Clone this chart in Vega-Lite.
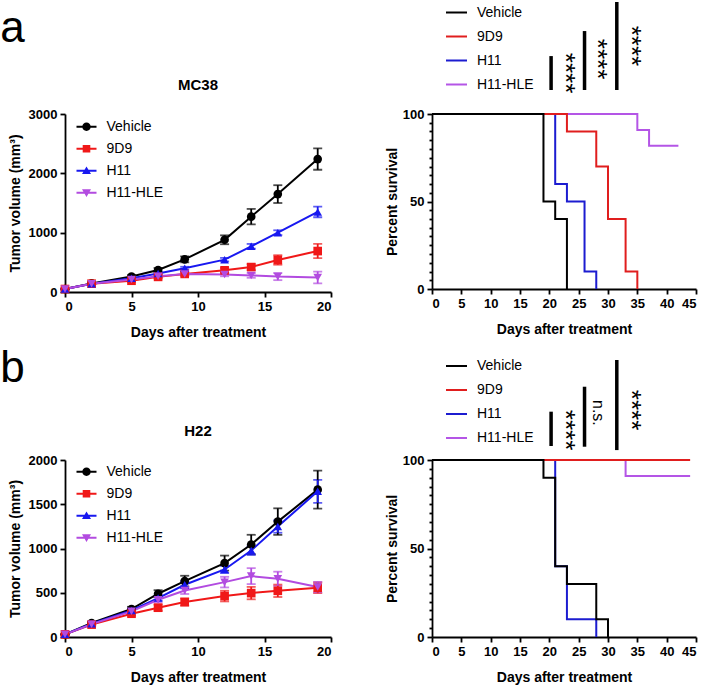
{
  "$schema": "https://vega.github.io/schema/vega-lite/v6.json",
  "padding": {"left": 0, "top": 0, "right": 4, "bottom": 4},
  "background": "white",
  "datasets": {
    "groups": [{"group": "Vehicle"}, {"group": "9D9"}, {"group": "H11"}, {"group": "H11-HLE"}],
    "mc38": [
      {"group": "Vehicle", "day": 0, "vol": 50, "err": 10},
      {"group": "Vehicle", "day": 2, "vol": 145, "err": 15},
      {"group": "Vehicle", "day": 5, "vol": 260, "err": 25},
      {"group": "Vehicle", "day": 7, "vol": 370, "err": 35},
      {"group": "Vehicle", "day": 9, "vol": 550, "err": 50},
      {"group": "Vehicle", "day": 12, "vol": 880, "err": 75},
      {"group": "Vehicle", "day": 14, "vol": 1270, "err": 130},
      {"group": "Vehicle", "day": 16, "vol": 1650, "err": 150},
      {"group": "Vehicle", "day": 19, "vol": 2240, "err": 180},
      {"group": "9D9", "day": 0, "vol": 50, "err": 5},
      {"group": "9D9", "day": 2, "vol": 140, "err": 10},
      {"group": "9D9", "day": 5, "vol": 190, "err": 20},
      {"group": "9D9", "day": 7, "vol": 255, "err": 25},
      {"group": "9D9", "day": 9, "vol": 305, "err": 30},
      {"group": "9D9", "day": 12, "vol": 365, "err": 40},
      {"group": "9D9", "day": 14, "vol": 420, "err": 50},
      {"group": "9D9", "day": 16, "vol": 540, "err": 80},
      {"group": "9D9", "day": 19, "vol": 690, "err": 120},
      {"group": "H11", "day": 0, "vol": 50, "err": 5},
      {"group": "H11", "day": 2, "vol": 140, "err": 10},
      {"group": "H11", "day": 5, "vol": 230, "err": 15},
      {"group": "H11", "day": 7, "vol": 310, "err": 20},
      {"group": "H11", "day": 9, "vol": 400, "err": 25},
      {"group": "H11", "day": 12, "vol": 545, "err": 30},
      {"group": "H11", "day": 14, "vol": 770, "err": 40},
      {"group": "H11", "day": 16, "vol": 1000, "err": 40},
      {"group": "H11", "day": 19, "vol": 1350, "err": 90},
      {"group": "H11-HLE", "day": 0, "vol": 50, "err": 5},
      {"group": "H11-HLE", "day": 2, "vol": 140, "err": 10},
      {"group": "H11-HLE", "day": 5, "vol": 210, "err": 15},
      {"group": "H11-HLE", "day": 7, "vol": 265, "err": 20},
      {"group": "H11-HLE", "day": 9, "vol": 305, "err": 25},
      {"group": "H11-HLE", "day": 12, "vol": 295, "err": 30},
      {"group": "H11-HLE", "day": 14, "vol": 280, "err": 40},
      {"group": "H11-HLE", "day": 16, "vol": 260, "err": 60},
      {"group": "H11-HLE", "day": 19, "vol": 245, "err": 100}
    ],
    "h22": [
      {"group": "Vehicle", "day": 0, "vol": 30, "err": 5},
      {"group": "Vehicle", "day": 2, "vol": 158, "err": 15},
      {"group": "Vehicle", "day": 5, "vol": 316, "err": 25},
      {"group": "Vehicle", "day": 7, "vol": 489, "err": 40},
      {"group": "Vehicle", "day": 9, "vol": 632, "err": 60},
      {"group": "Vehicle", "day": 12, "vol": 835, "err": 85},
      {"group": "Vehicle", "day": 14, "vol": 1045, "err": 110},
      {"group": "Vehicle", "day": 16, "vol": 1304, "err": 150},
      {"group": "Vehicle", "day": 19, "vol": 1665, "err": 215},
      {"group": "9D9", "day": 0, "vol": 30, "err": 5},
      {"group": "9D9", "day": 2, "vol": 140, "err": 15},
      {"group": "9D9", "day": 5, "vol": 263, "err": 20},
      {"group": "9D9", "day": 7, "vol": 331, "err": 35},
      {"group": "9D9", "day": 9, "vol": 395, "err": 40},
      {"group": "9D9", "day": 12, "vol": 462, "err": 60},
      {"group": "9D9", "day": 14, "vol": 496, "err": 70},
      {"group": "9D9", "day": 16, "vol": 522, "err": 70},
      {"group": "9D9", "day": 19, "vol": 556, "err": 60},
      {"group": "H11", "day": 0, "vol": 30, "err": 5},
      {"group": "H11", "day": 2, "vol": 150, "err": 10},
      {"group": "H11", "day": 5, "vol": 300, "err": 20},
      {"group": "H11", "day": 7, "vol": 440, "err": 30},
      {"group": "H11", "day": 9, "vol": 590, "err": 40},
      {"group": "H11", "day": 12, "vol": 763, "err": 40},
      {"group": "H11", "day": 14, "vol": 977, "err": 50},
      {"group": "H11", "day": 16, "vol": 1248, "err": 70},
      {"group": "H11", "day": 19, "vol": 1646, "err": 130},
      {"group": "H11-HLE", "day": 0, "vol": 30, "err": 5},
      {"group": "H11-HLE", "day": 2, "vol": 145, "err": 10},
      {"group": "H11-HLE", "day": 5, "vol": 290, "err": 20},
      {"group": "H11-HLE", "day": 7, "vol": 421, "err": 30},
      {"group": "H11-HLE", "day": 9, "vol": 526, "err": 40},
      {"group": "H11-HLE", "day": 12, "vol": 620, "err": 60},
      {"group": "H11-HLE", "day": 14, "vol": 688, "err": 90},
      {"group": "H11-HLE", "day": 16, "vol": 658, "err": 80},
      {"group": "H11-HLE", "day": 19, "vol": 564, "err": 60}
    ],
    "surv_mc38": [
      {"group": "H11-HLE", "day": 0, "pct": 100},
      {"group": "H11-HLE", "day": 35, "pct": 90.9},
      {"group": "H11-HLE", "day": 37, "pct": 81.8},
      {"group": "H11-HLE", "day": 42, "pct": 81.8},
      {"group": "H11", "day": 0, "pct": 100},
      {"group": "H11", "day": 21, "pct": 60},
      {"group": "H11", "day": 23, "pct": 50},
      {"group": "H11", "day": 26, "pct": 10},
      {"group": "H11", "day": 28, "pct": 0},
      {"group": "9D9", "day": 0, "pct": 100},
      {"group": "9D9", "day": 23, "pct": 90},
      {"group": "9D9", "day": 28, "pct": 70},
      {"group": "9D9", "day": 30, "pct": 40},
      {"group": "9D9", "day": 33, "pct": 10},
      {"group": "9D9", "day": 35, "pct": 0},
      {"group": "Vehicle", "day": 0, "pct": 100},
      {"group": "Vehicle", "day": 19, "pct": 50},
      {"group": "Vehicle", "day": 21, "pct": 40},
      {"group": "Vehicle", "day": 23, "pct": 0}
    ],
    "surv_h22": [
      {"group": "H11-HLE", "day": 0, "pct": 100},
      {"group": "H11-HLE", "day": 33, "pct": 90.9},
      {"group": "H11-HLE", "day": 44, "pct": 90.9},
      {"group": "H11", "day": 0, "pct": 100},
      {"group": "H11", "day": 21, "pct": 40},
      {"group": "H11", "day": 23, "pct": 10},
      {"group": "H11", "day": 28, "pct": 0},
      {"group": "9D9", "day": 0, "pct": 100},
      {"group": "9D9", "day": 44, "pct": 100},
      {"group": "Vehicle", "day": 0, "pct": 100},
      {"group": "Vehicle", "day": 19, "pct": 90},
      {"group": "Vehicle", "day": 21, "pct": 40},
      {"group": "Vehicle", "day": 23, "pct": 30},
      {"group": "Vehicle", "day": 28, "pct": 10},
      {"group": "Vehicle", "day": 30, "pct": 0}
    ],
    "sig_mc38": [
      {"day": 20.3, "pct": 113.7, "pct2": 133.1},
      {"day": 26, "pct": 113.7, "pct2": 147.4},
      {"day": 31.5, "pct": 113.7, "pct2": 164}
    ],
    "stars_mc38": [
      {"day": 22.6, "pct": 123.4, "label": "****"},
      {"day": 28.2, "pct": 131.4, "label": "****"},
      {"day": 33.9, "pct": 138.9, "label": "****"}
    ],
    "sig_h22": [
      {"day": 20.3, "pct": 107.9, "pct2": 127.3},
      {"day": 26, "pct": 107.5, "pct2": 141.4},
      {"day": 31.5, "pct": 105.6, "pct2": 156.5}
    ],
    "stars_h22": [
      {"day": 22.6, "pct": 116.9, "label": "****"},
      {"day": 28.3, "pct": 126.6, "label": "n.s."},
      {"day": 33.9, "pct": 128.2, "label": "****"}
    ],
    "panel_a": [{"day": -73.6, "pct": 141.1, "label": "a"}],
    "panel_b": [{"day": -73.6, "pct": 144, "label": "b"}],
    "minor": [
      {"pct": 5}, {"pct": 10}, {"pct": 15}, {"pct": 20}, {"pct": 25}, {"pct": 30}, {"pct": 35}, {"pct": 40}, {"pct": 45},
      {"pct": 55}, {"pct": 60}, {"pct": 65}, {"pct": 70}, {"pct": 75}, {"pct": 80}, {"pct": 85}, {"pct": 90}, {"pct": 95}
    ]
  },
  "concat": [
    {
      "width": 266, "height": 178,
      "title": {"text": "MC38", "offset": 15},
      "resolve": {"scale": {"color": "independent", "shape": "independent"}},
      "layer": [
        {
          "data": {"name": "mc38"},
          "mark": {"type": "errorbar", "ticks": {"size": 9, "thickness": 1.8}, "rule": {"strokeWidth": 1.8}},
          "encoding": {
            "x": {"field": "day", "type": "quantitative", "scale": {"domain": [0, 20], "nice": false}, "axis": {"values": [0, 5, 10, 15, 20], "title": "Days after treatment"}},
            "y": {"field": "vol", "type": "quantitative", "scale": {"domain": [0, 3000], "nice": false}, "axis": {"values": [0, 1000, 2000, 3000], "format": "d", "title": "Tumor volume (mm³)"}},
            "yError": {"field": "err"},
            "color": {"field": "group", "type": "nominal", "legend": null, "scale": {"domain": ["Vehicle", "9D9", "H11", "H11-HLE"], "range": ["#000000", "#f01818", "#1818f0", "#b24be0"]}}
          }
        },
        {
          "data": {"name": "mc38"},
          "mark": {"type": "line", "strokeWidth": 2},
          "encoding": {
            "x": {"field": "day", "type": "quantitative", "scale": {"domain": [0, 20], "nice": false}},
            "y": {"field": "vol", "type": "quantitative", "scale": {"domain": [0, 3000], "nice": false}},
            "color": {"field": "group", "type": "nominal", "legend": null, "scale": {"domain": ["Vehicle", "9D9", "H11", "H11-HLE"], "range": ["#000000", "#f01818", "#1818f0", "#b24be0"]}}
          }
        },
        {
          "data": {"name": "mc38"},
          "mark": {"type": "point", "filled": true, "size": 75, "opacity": 1},
          "encoding": {
            "x": {"field": "day", "type": "quantitative", "scale": {"domain": [0, 20], "nice": false}},
            "y": {"field": "vol", "type": "quantitative", "scale": {"domain": [0, 3000], "nice": false}},
            "shape": {"field": "group", "type": "nominal", "scale": {"domain": ["Vehicle", "9D9", "H11", "H11-HLE"], "range": ["circle", "square", "triangle-up", "triangle-down"]}, "legend": null},
            "color": {"field": "group", "type": "nominal", "legend": null, "scale": {"domain": ["Vehicle", "9D9", "H11", "H11-HLE"], "range": ["#000000", "#f01818", "#1818f0", "#b24be0"]}}
          }
        },
        {
          "data": {"name": "groups"},
          "mark": {"type": "point", "filled": true, "opacity": 0},
          "encoding": {
            "x": {"datum": 10, "type": "quantitative", "scale": {"domain": [0, 20], "nice": false}},
            "y": {"datum": 1000, "type": "quantitative", "scale": {"domain": [0, 3000], "nice": false}},
            "shape": {"field": "group", "type": "nominal",
              "scale": {"domain": ["Vehicle", "9D9", "H11", "H11-HLE"], "range": [
                "M-1,-0.1H1V0.1H-1ZM0.42,0A0.42,0.42,0,1,1,-0.42,0A0.42,0.42,0,1,1,0.42,0Z",
                "M-1,-0.1H1V0.1H-1ZM-0.38,-0.38H0.38V0.38H-0.38Z",
                "M-1,-0.1H1V0.1H-1ZM0,-0.42L0.45,0.34L-0.45,0.34Z",
                "M-1,-0.1H1V0.1H-1ZM0,0.42L-0.45,-0.34L0.45,-0.34Z"]},
              "legend": {"orient": "none", "legendX": 11.5, "legendY": 2.7, "title": null, "padding": 0, "symbolSize": 400, "symbolOpacity": 1, "symbolStrokeWidth": 0, "rowPadding": 5, "labelOffset": 10, "labelFontSize": 14}},
            "color": {"field": "group", "type": "nominal",
              "scale": {"domain": ["Vehicle", "9D9", "H11", "H11-HLE"], "range": ["#000000", "#f01818", "#1818f0", "#b24be0"]},
              "legend": {"orient": "none", "legendX": 11.5, "legendY": 2.7, "title": null, "padding": 0, "symbolSize": 400, "symbolOpacity": 1, "symbolStrokeWidth": 0, "rowPadding": 5, "labelOffset": 10, "labelFontSize": 14}}
          }
        }
      ]
    },
    {
      "width": 264, "height": 175,
      "resolve": {"axis": {"y": "independent"}},
      "layer": [
        {
          "data": {"name": "surv_mc38"},
          "mark": {"type": "line", "interpolate": "step-after", "strokeWidth": 2},
          "encoding": {
            "x": {"field": "day", "type": "quantitative", "scale": {"domain": [0, 45], "nice": false}, "axis": {"values": [0, 5, 10, 15, 20, 25, 30, 35, 40, 45], "title": "Days after treatment"}},
            "y": {"field": "pct", "type": "quantitative", "scale": {"domain": [0, 100], "nice": false}, "axis": {"orient": "left", "values": [0, 50, 100], "title": "Percent survival", "titlePadding": 3}},
            "color": {
              "field": "group", "type": "nominal",
              "scale": {"domain": ["Vehicle", "9D9", "H11", "H11-HLE"], "range": ["#000000", "#e01e1e", "#1c1cd0", "#b455e6"]},
              "legend": {"orient": "none", "legendX": 13, "legendY": -113, "title": null, "padding": 0, "symbolType": "stroke", "symbolSize": 441, "symbolStrokeWidth": 2, "rowPadding": 5, "labelOffset": 9, "labelFontSize": 14}
            }
          }
        },
        {
          "data": {"name": "minor"},
          "mark": {"type": "point", "opacity": 0},
          "encoding": {
            "x": {"datum": 0, "type": "quantitative", "scale": {"domain": [0, 45], "nice": false}, "axis": {"values": [0, 5, 10, 15, 20, 25, 30, 35, 40, 45], "title": "Days after treatment"}},
            "y": {"field": "pct", "type": "quantitative", "scale": {"domain": [0, 100], "nice": false}, "axis": {"orient": "left", "values": [5, 10, 15, 20, 25, 30, 35, 40, 45, 55, 60, 65, 70, 75, 80, 85, 90, 95], "labels": false, "domain": false, "title": null, "tickSize": 3}}
          }
        },
        {
          "data": {"name": "sig_mc38"},
          "mark": {"type": "rule", "strokeWidth": 3.5, "color": "black"},
          "encoding": {
            "x": {"field": "day", "type": "quantitative", "scale": {"domain": [0, 45], "nice": false}, "axis": {"values": [0, 5, 10, 15, 20, 25, 30, 35, 40, 45], "title": "Days after treatment"}},
            "y": {"field": "pct", "type": "quantitative", "scale": {"domain": [0, 100], "nice": false}, "axis": null},
            "y2": {"field": "pct2"}
          }
        },
        {
          "data": {"name": "stars_mc38"},
          "mark": {"type": "text", "angle": 90, "fontSize": 26, "align": "center", "baseline": "middle", "color": "black"},
          "encoding": {
            "x": {"field": "day", "type": "quantitative", "scale": {"domain": [0, 45], "nice": false}, "axis": {"values": [0, 5, 10, 15, 20, 25, 30, 35, 40, 45], "title": "Days after treatment"}},
            "y": {"field": "pct", "type": "quantitative", "scale": {"domain": [0, 100], "nice": false}, "axis": null},
            "text": {"field": "label"}
          }
        },
        {
          "data": {"name": "panel_a"},
          "mark": {"type": "text", "fontSize": 44, "align": "left", "baseline": "alphabetic", "color": "black"},
          "encoding": {
            "x": {"field": "day", "type": "quantitative", "scale": {"domain": [0, 45], "nice": false}, "axis": {"values": [0, 5, 10, 15, 20, 25, 30, 35, 40, 45], "title": "Days after treatment"}},
            "y": {"field": "pct", "type": "quantitative", "scale": {"domain": [0, 100], "nice": false}, "axis": null},
            "text": {"field": "label"}
          }
        }
      ]
    },
    {
      "width": 266, "height": 177,
      "title": {"text": "H22", "offset": 15},
      "resolve": {"scale": {"color": "independent", "shape": "independent"}},
      "layer": [
        {
          "data": {"name": "h22"},
          "mark": {"type": "errorbar", "ticks": {"size": 9, "thickness": 1.8}, "rule": {"strokeWidth": 1.8}},
          "encoding": {
            "x": {"field": "day", "type": "quantitative", "scale": {"domain": [0, 20], "nice": false}, "axis": {"values": [0, 5, 10, 15, 20], "title": "Days after treatment"}},
            "y": {"field": "vol", "type": "quantitative", "scale": {"domain": [0, 2000], "nice": false}, "axis": {"values": [0, 500, 1000, 1500, 2000], "format": "d", "title": "Tumor volume (mm³)"}},
            "yError": {"field": "err"},
            "color": {"field": "group", "type": "nominal", "legend": null, "scale": {"domain": ["Vehicle", "9D9", "H11", "H11-HLE"], "range": ["#000000", "#f01818", "#1818f0", "#b24be0"]}}
          }
        },
        {
          "data": {"name": "h22"},
          "mark": {"type": "line", "strokeWidth": 2},
          "encoding": {
            "x": {"field": "day", "type": "quantitative", "scale": {"domain": [0, 20], "nice": false}},
            "y": {"field": "vol", "type": "quantitative", "scale": {"domain": [0, 2000], "nice": false}},
            "color": {"field": "group", "type": "nominal", "legend": null, "scale": {"domain": ["Vehicle", "9D9", "H11", "H11-HLE"], "range": ["#000000", "#f01818", "#1818f0", "#b24be0"]}}
          }
        },
        {
          "data": {"name": "h22"},
          "mark": {"type": "point", "filled": true, "size": 75, "opacity": 1},
          "encoding": {
            "x": {"field": "day", "type": "quantitative", "scale": {"domain": [0, 20], "nice": false}},
            "y": {"field": "vol", "type": "quantitative", "scale": {"domain": [0, 2000], "nice": false}},
            "shape": {"field": "group", "type": "nominal", "scale": {"domain": ["Vehicle", "9D9", "H11", "H11-HLE"], "range": ["circle", "square", "triangle-up", "triangle-down"]}, "legend": null},
            "color": {"field": "group", "type": "nominal", "legend": null, "scale": {"domain": ["Vehicle", "9D9", "H11", "H11-HLE"], "range": ["#000000", "#f01818", "#1818f0", "#b24be0"]}}
          }
        },
        {
          "data": {"name": "groups"},
          "mark": {"type": "point", "filled": true, "opacity": 0},
          "encoding": {
            "x": {"datum": 10, "type": "quantitative", "scale": {"domain": [0, 20], "nice": false}},
            "y": {"datum": 1000, "type": "quantitative", "scale": {"domain": [0, 2000], "nice": false}},
            "shape": {"field": "group", "type": "nominal",
              "scale": {"domain": ["Vehicle", "9D9", "H11", "H11-HLE"], "range": [
                "M-1,-0.1H1V0.1H-1ZM0.42,0A0.42,0.42,0,1,1,-0.42,0A0.42,0.42,0,1,1,0.42,0Z",
                "M-1,-0.1H1V0.1H-1ZM-0.38,-0.38H0.38V0.38H-0.38Z",
                "M-1,-0.1H1V0.1H-1ZM0,-0.42L0.45,0.34L-0.45,0.34Z",
                "M-1,-0.1H1V0.1H-1ZM0,0.42L-0.45,-0.34L0.45,-0.34Z"]},
              "legend": {"orient": "none", "legendX": 11.5, "legendY": 1.7, "title": null, "padding": 0, "symbolSize": 400, "symbolOpacity": 1, "symbolStrokeWidth": 0, "rowPadding": 5, "labelOffset": 10, "labelFontSize": 14}},
            "color": {"field": "group", "type": "nominal",
              "scale": {"domain": ["Vehicle", "9D9", "H11", "H11-HLE"], "range": ["#000000", "#f01818", "#1818f0", "#b24be0"]},
              "legend": {"orient": "none", "legendX": 11.5, "legendY": 1.7, "title": null, "padding": 0, "symbolSize": 400, "symbolOpacity": 1, "symbolStrokeWidth": 0, "rowPadding": 5, "labelOffset": 10, "labelFontSize": 14}}
          }
        }
      ]
    },
    {
      "width": 264, "height": 177,
      "resolve": {"axis": {"y": "independent"}},
      "layer": [
        {
          "data": {"name": "surv_h22"},
          "mark": {"type": "line", "interpolate": "step-after", "strokeWidth": 2},
          "encoding": {
            "x": {"field": "day", "type": "quantitative", "scale": {"domain": [0, 45], "nice": false}, "axis": {"values": [0, 5, 10, 15, 20, 25, 30, 35, 40, 45], "title": "Days after treatment"}},
            "y": {"field": "pct", "type": "quantitative", "scale": {"domain": [0, 100], "nice": false}, "axis": {"orient": "left", "values": [0, 50, 100], "title": "Percent survival", "titlePadding": 3}},
            "color": {
              "field": "group", "type": "nominal",
              "scale": {"domain": ["Vehicle", "9D9", "H11", "H11-HLE"], "range": ["#000000", "#e01e1e", "#1c1cd0", "#b455e6"]},
              "legend": {"orient": "none", "legendX": 13, "legendY": -105.5, "title": null, "padding": 0, "symbolType": "stroke", "symbolSize": 441, "symbolStrokeWidth": 2, "rowPadding": 5, "labelOffset": 9, "labelFontSize": 14}
            }
          }
        },
        {
          "data": {"name": "minor"},
          "mark": {"type": "point", "opacity": 0},
          "encoding": {
            "x": {"datum": 0, "type": "quantitative", "scale": {"domain": [0, 45], "nice": false}, "axis": {"values": [0, 5, 10, 15, 20, 25, 30, 35, 40, 45], "title": "Days after treatment"}},
            "y": {"field": "pct", "type": "quantitative", "scale": {"domain": [0, 100], "nice": false}, "axis": {"orient": "left", "values": [5, 10, 15, 20, 25, 30, 35, 40, 45, 55, 60, 65, 70, 75, 80, 85, 90, 95], "labels": false, "domain": false, "title": null, "tickSize": 3}}
          }
        },
        {
          "data": {"name": "sig_h22"},
          "mark": {"type": "rule", "strokeWidth": 3.5, "color": "black"},
          "encoding": {
            "x": {"field": "day", "type": "quantitative", "scale": {"domain": [0, 45], "nice": false}, "axis": {"values": [0, 5, 10, 15, 20, 25, 30, 35, 40, 45], "title": "Days after treatment"}},
            "y": {"field": "pct", "type": "quantitative", "scale": {"domain": [0, 100], "nice": false}, "axis": null},
            "y2": {"field": "pct2"}
          }
        },
        {
          "data": {"name": "stars_h22"},
          "mark": {"type": "text", "angle": 90, "align": "center", "baseline": "middle", "color": "black"},
          "encoding": {
            "x": {"field": "day", "type": "quantitative", "scale": {"domain": [0, 45], "nice": false}, "axis": {"values": [0, 5, 10, 15, 20, 25, 30, 35, 40, 45], "title": "Days after treatment"}},
            "y": {"field": "pct", "type": "quantitative", "scale": {"domain": [0, 100], "nice": false}, "axis": null},
            "text": {"field": "label"},
            "size": {"condition": {"test": "datum.label === 'n.s.'", "value": 16}, "value": 26}
          }
        },
        {
          "data": {"name": "panel_b"},
          "mark": {"type": "text", "fontSize": 44, "align": "left", "baseline": "alphabetic", "color": "black"},
          "encoding": {
            "x": {"field": "day", "type": "quantitative", "scale": {"domain": [0, 45], "nice": false}, "axis": {"values": [0, 5, 10, 15, 20, 25, 30, 35, 40, 45], "title": "Days after treatment"}},
            "y": {"field": "pct", "type": "quantitative", "scale": {"domain": [0, 100], "nice": false}, "axis": null},
            "text": {"field": "label"}
          }
        }
      ]
    }
  ],
  "columns": 2,
  "spacing": {"row": 168, "column": 101},
  "bounds": "flush",
  "resolve": {
    "scale": {"color": "independent", "shape": "independent", "x": "independent", "y": "independent"},
    "legend": {"color": "independent", "shape": "independent"}
  },
  "config": {
    "font": "Liberation Sans",
    "view": {"stroke": null},
    "axis": {
      "domainColor": "black", "domainWidth": 1.8, "tickColor": "black", "tickWidth": 1.8, "tickSize": 5,
      "labelFontWeight": "bold", "labelFontSize": 13, "labelColor": "black", "labelPadding": 3,
      "titleFontSize": 14, "titleFontWeight": "bold", "titleColor": "black", "titlePadding": 6, "grid": false
    },
    "axisX": {"titlePadding": 12},
    "legend": {"labelFontSize": 14, "labelColor": "black"},
    "title": {"fontSize": 15, "fontWeight": "bold", "color": "black"}
  }
}
